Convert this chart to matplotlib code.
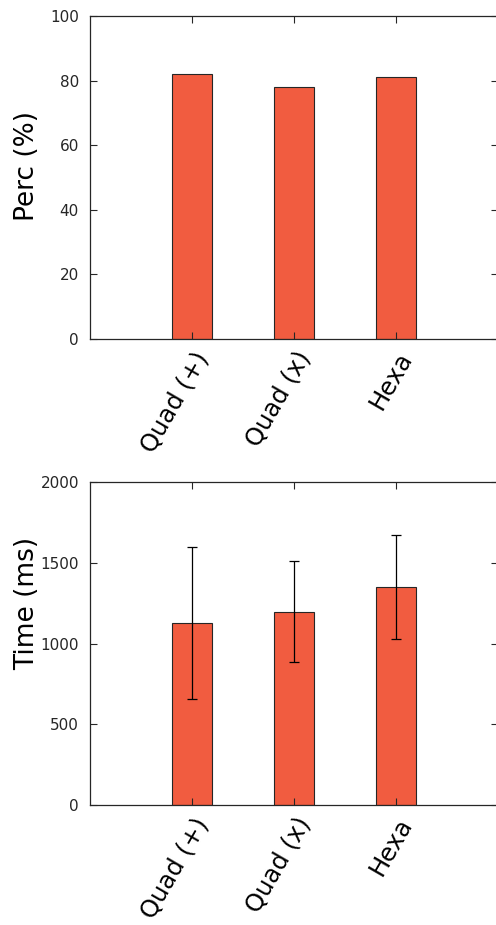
import numpy as np
import matplotlib
matplotlib.use("Agg")
import matplotlib.pyplot as plt

# Data
methods = ["Quad (+)", "Quad (x)", "Hexa"]
perc = [82, 78, 81]
time_mean = [1128, 1198, 1348]
time_err = [470, 313, 322]

bar_color = "#F15C40"
edge_color = "#262626"

fig = plt.figure(figsize=(4.96, 9.25), dpi=100)
ax1 = fig.add_axes([0.1815, 0.6335, 0.8226, 0.3492])
ax2 = fig.add_axes([0.1815, 0.1297, 0.8226, 0.3492])

x = np.arange(1, len(methods) + 1)

ax1.bar(x, perc, width=0.4, color=bar_color, edgecolor=edge_color, linewidth=0.8)
ax1.set_ylim(0, 100)
ax1.set_yticks([0, 20, 40, 60, 80, 100])
ax1.set_ylabel("Perc (%)", fontsize=19)
ax1.yaxis.set_label_coords(-0.122, 0.535)

ax2.bar(x, time_mean, width=0.4, color=bar_color, edgecolor=edge_color, linewidth=0.8)
ax2.errorbar(x, time_mean, yerr=time_err, fmt="none", ecolor="black",
             elinewidth=0.9, capsize=3.6, capthick=0.9)
ax2.set_ylim(0, 2000)
ax2.set_yticks([0, 500, 1000, 1500, 2000])
ax2.set_ylabel("Time (ms)", fontsize=19)
ax2.yaxis.set_label_coords(-0.122, 0.625)

for ax in (ax1, ax2):
  ax.set_xlim(0, 4)
  ax.set_xticks(x)
  ax.set_xticklabels(methods, rotation=60, ha="right", rotation_mode="anchor",
                     fontsize=17.5, color="black")
  ax.tick_params(axis="both", direction="in", length=5, width=0.8,
                 top=True, right=True, colors=edge_color, labelsize=11)
  ax.tick_params(axis="y", pad=8)
  ax.tick_params(axis="x", labelcolor="black", labelsize=17.5, pad=6)
  for side in ("left", "bottom", "top"):
    ax.spines[side].set_color(edge_color)
    ax.spines[side].set_linewidth(0.9)
  ax.spines["right"].set_visible(False)

fig.savefig("out.png", dpi=100)
